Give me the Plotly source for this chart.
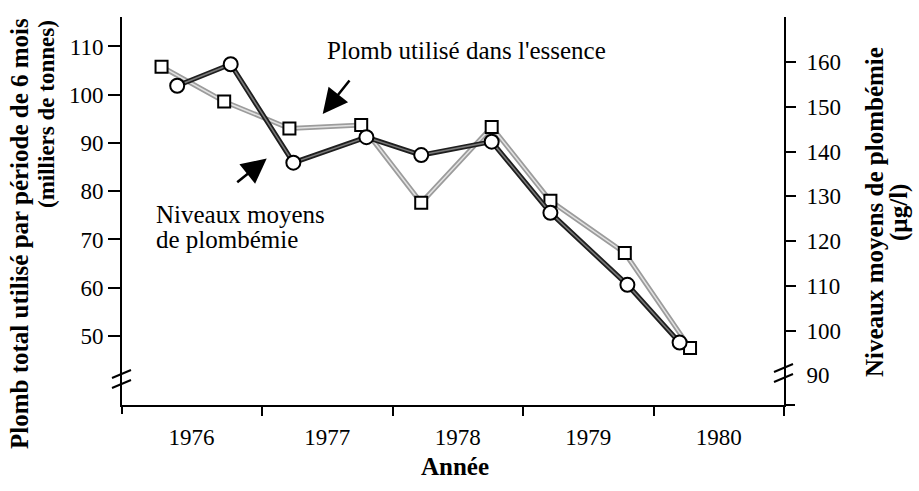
import plotly.graph_objects as go

# Semi-annual periods (position in years) and values
gas_x = [1976.23, 1976.71, 1977.21, 1977.76, 1978.22, 1978.76, 1979.21, 1979.78, 1980.28]
gas_lead = [105.8, 98.6, 93.0, 93.7, 77.6, 93.3, 78.0, 67.2, 47.5]   # milliers de tonnes

blood_x = [1976.35, 1976.76, 1977.24, 1977.80, 1978.22, 1978.76, 1979.21, 1979.80, 1980.20]
blood_lead = [154.7, 159.5, 137.5, 143.2, 139.2, 142.2, 126.3, 110.2, 97.3]  # µg/l

year_labels = ["1976", "1977", "1978", "1979", "1980"]
year_label_pos = [1976.46, 1977.5, 1978.5, 1979.5, 1980.5]
year_bounds = [1977, 1978, 1979, 1980, 1981]

left_ticks = [50, 60, 70, 80, 90, 100, 110]
right_labels = [90, 100, 110, 120, 130, 140, 150, 160]
right_ticks = [100, 110, 120, 130, 140, 150, 160]

FONT = "Liberation Serif"
W, H = 919, 491
ML, MR, MT, MB = 122, 135, 17, 86
PW, PH = W - ML - MR, H - MT - MB


def px(xpix):
    return (xpix - ML) / PW


def py(ypix):
    return (H - MB - ypix) / PH


fig = go.Figure()

# gasoline series: light grey doubled line
fig.add_trace(go.Scatter(x=gas_x, y=gas_lead, mode="lines",
                         line=dict(color="#9c9c9c", width=5), hoverinfo="skip", showlegend=False))
fig.add_trace(go.Scatter(x=gas_x, y=gas_lead, mode="lines",
                         line=dict(color="#e2e2e2", width=1.5), hoverinfo="skip", showlegend=False))
# blood level series: dark doubled line
fig.add_trace(go.Scatter(x=blood_x, y=blood_lead, mode="lines", yaxis="y2",
                         line=dict(color="#1e1e1e", width=5), hoverinfo="skip", showlegend=False))
fig.add_trace(go.Scatter(x=blood_x, y=blood_lead, mode="lines", yaxis="y2",
                         line=dict(color="#7a7a7a", width=1.5), hoverinfo="skip", showlegend=False))
# markers
fig.add_trace(go.Scatter(x=gas_x, y=gas_lead, mode="markers", name="Plomb utilisé dans l'essence",
                         marker=dict(symbol="square", size=12, color="white",
                                     line=dict(color="black", width=2)), showlegend=False))
fig.add_trace(go.Scatter(x=blood_x, y=blood_lead, mode="markers", yaxis="y2",
                         name="Niveaux moyens de plombémie",
                         marker=dict(symbol="circle", size=14, color="white",
                                     line=dict(color="black", width=2)), showlegend=False))

tickfont = dict(family=FONT, size=23, color="black")

fig.update_layout(
    width=W, height=H,
    margin=dict(l=ML, r=MR, t=MT, b=MB, pad=0),
    paper_bgcolor="white", plot_bgcolor="white",
    font=dict(family=FONT, color="black"),
    xaxis=dict(
        range=[1975.927, 1981.0], showgrid=False, zeroline=False,
        showline=True, linecolor="black", linewidth=2,
        tickmode="array", tickvals=year_label_pos, ticktext=year_labels,
        ticks="outside", ticklen=10, tickcolor="rgba(0,0,0,0)", tickfont=tickfont,
        minor=dict(tickmode="array", tickvals=year_bounds, ticks="outside",
                   ticklen=9, tickwidth=2, tickcolor="black", showgrid=False),
    ),
    yaxis=dict(
        range=[35.7, 116.1], showgrid=False, zeroline=False,
        showline=True, linecolor="black", linewidth=2,
        tickmode="array", tickvals=left_ticks,
        ticks="outside", ticklen=12, tickwidth=2, tickcolor="black", tickfont=tickfont,
    ),
    yaxis2=dict(
        range=[83.35, 170.06], overlaying="y", side="right", showgrid=False, zeroline=False,
        showline=True, linecolor="black", linewidth=2,
        tickmode="array", tickvals=right_labels,
        ticks="outside", ticklen=16, tickcolor="rgba(0,0,0,0)", tickfont=tickfont,
        minor=dict(tickmode="array", tickvals=right_ticks, ticks="outside",
                   ticklen=10, tickwidth=2, tickcolor="black", showgrid=False),
    ),
)

shape_line = dict(color="black", width=2)
# axis-break marks on both vertical axes
for xa, ya in [(0, py(379)), (1, py(373))]:
    fig.add_shape(type="path", xref="paper", yref="paper", xsizemode="pixel", ysizemode="pixel",
                  xanchor=xa, yanchor=ya,
                  path="M -10,-9 L 9,-1 M -10,1 L 9,9", line=shape_line)
# short axis overhangs at the corners
for xa in (0, 1):
    fig.add_shape(type="line", xref="paper", yref="paper", xsizemode="pixel", ysizemode="pixel",
                  xanchor=xa, yanchor=0, x0=0, x1=0, y0=0, y1=-9, line=shape_line)
fig.add_shape(type="line", xref="paper", yref="paper", xsizemode="pixel", ysizemode="pixel",
              xanchor=1, yanchor=0, x0=0, x1=11, y0=0, y1=0, line=shape_line)

# axis titles
fig.add_annotation(text="<b>Plomb total utilisé par période de 6 mois</b>", textangle=-90,
                   xref="paper", yref="paper", x=px(19), y=py(234),
                   xanchor="center", yanchor="middle", showarrow=False,
                   font=dict(family=FONT, size=25, color="black"))
fig.add_annotation(text="<b>(milliers de tonnes)</b>", textangle=-90,
                   xref="paper", yref="paper", x=px(46), y=py(114),
                   xanchor="center", yanchor="middle", showarrow=False,
                   font=dict(family=FONT, size=23, color="black"))
fig.add_annotation(text="<b>Niveaux moyens de plombémie</b>", textangle=-90,
                   xref="paper", yref="paper", x=px(874), y=py(212),
                   xanchor="center", yanchor="middle", showarrow=False,
                   font=dict(family=FONT, size=25, color="black"))
fig.add_annotation(text="<b>(µg/l)</b>", textangle=-90,
                   xref="paper", yref="paper", x=px(899), y=py(213),
                   xanchor="center", yanchor="middle", showarrow=False,
                   font=dict(family=FONT, size=25, color="black"))
fig.add_annotation(text="<b>Année</b>", xref="paper", yref="paper", x=px(455), y=py(467),
                   xanchor="center", yanchor="middle", showarrow=False,
                   font=dict(family=FONT, size=25, color="black"))

# series labels with pointing arrows
label_font = dict(family=FONT, size=25, color="black")
fig.add_annotation(text="Plomb utilisé dans l'essence", xref="paper", yref="paper",
                   x=px(325), y=py(50), xanchor="left", yanchor="middle",
                   showarrow=False, font=label_font)
fig.add_annotation(text="Niveaux moyens", xref="paper", yref="paper",
                   x=px(154), y=py(214), xanchor="left", yanchor="middle",
                   showarrow=False, font=label_font)
fig.add_annotation(text="de plombémie", xref="paper", yref="paper",
                   x=px(154), y=py(240), xanchor="left", yanchor="middle",
                   showarrow=False, font=label_font)
fig.add_annotation(text="", x=1977.465, y=96.0, xref="x", yref="y", showarrow=True,
                   ax=28, ay=-35, arrowhead=2, arrowsize=2.0, arrowwidth=2.5, arrowcolor="black",
                   standoff=0)
fig.add_annotation(text="", x=1977.036, y=86.8, xref="x", yref="y", showarrow=True,
                   ax=-31, ay=25, arrowhead=2, arrowsize=2.0, arrowwidth=2.5, arrowcolor="black",
                   standoff=0)

fig.write_html("out.html")
